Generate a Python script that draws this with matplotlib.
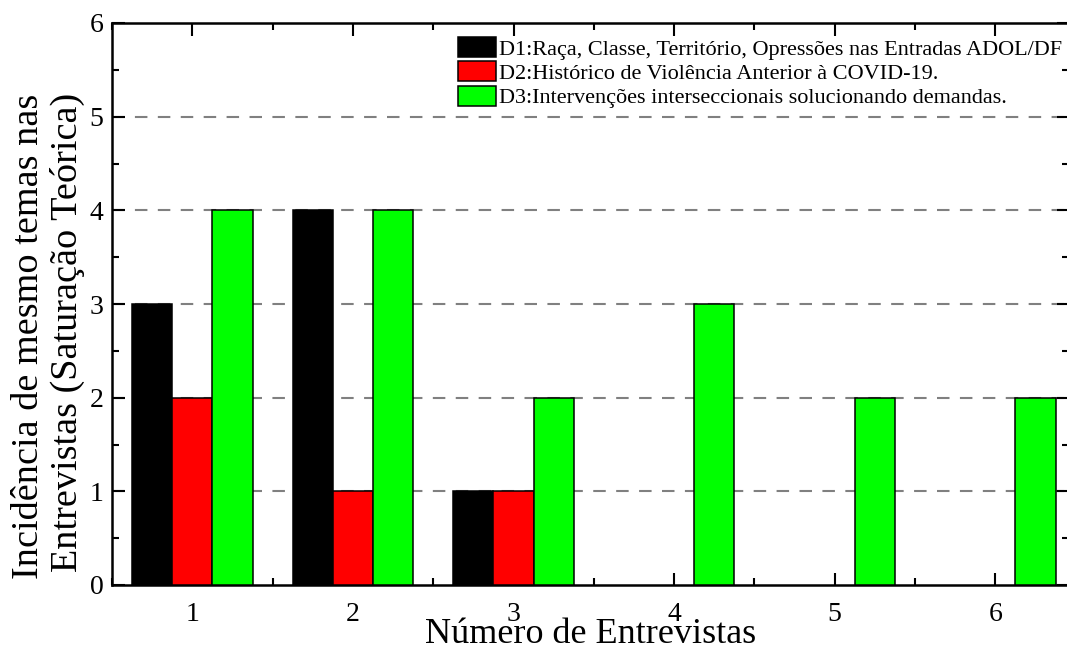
import numpy as np
import matplotlib
matplotlib.use('Agg')
import matplotlib.pyplot as plt
from matplotlib.ticker import MultipleLocator

# Data
# ----------------------------------------------------------------------------------------------
entrevistas = [1, 2, 3, 4, 5, 6]
d1 = [3, 4, 1, 0, 0, 0]
d2 = [2, 1, 1, 0, 0, 0]
d3 = [4, 4, 2, 3, 2, 2]
labels = ['D1:Raça, Classe, Território, Opressões nas Entradas ADOL/DF',
          'D2:Histórico de Violência Anterior à COVID-19.',
          'D3:Intervenções interseccionais solucionando demandas.']
colors = ['#000000', '#ff0000', '#00ff00']

plt.rcParams['font.family'] = ['Liberation Serif', 'DejaVu Serif']

fig = plt.figure(figsize=(10.67, 6.51), dpi=100)
# right spine sits just past the picture edge, as in the reference
ax = fig.add_axes([112/1067, 1-585/651, (1069-112)/1067, (585-23)/651])

x = np.array(entrevistas, dtype=float)
w = 0.25
for k, (vals, lab, c) in enumerate(zip([d1, d2, d3], labels, colors)):
    # zero-height bars leave no outline in the reference
    lw = [1.1 if v > 0 else 0 for v in vals]
    ax.bar(x + (k-1)*w, vals, width=w, color=c, edgecolor='black',
           linewidth=lw, label=lab, zorder=3)

for yv in [1, 2, 3, 4, 5]:
    ax.axhline(yv, color='#808080', linestyle=(0, (6, 5)), linewidth=1.5, zorder=1)

ax.set_xlim(0.5, 0.5 + (1069-112)/160.6)
ax.set_ylim(0, 6)
ax.xaxis.set_major_locator(MultipleLocator(1))
ax.xaxis.set_minor_locator(MultipleLocator(0.5))
ax.yaxis.set_major_locator(MultipleLocator(1))
ax.yaxis.set_minor_locator(MultipleLocator(0.5))
ax.tick_params(which='both', direction='in', top=True, right=True, labelsize=20, width=1.5)
ax.tick_params(which='major', length=9)
ax.tick_params(which='minor', length=5)
ax.tick_params(axis='x', pad=12)
ax.tick_params(axis='y', pad=6)
for s in ax.spines.values():
    s.set_linewidth(1.8)

ax.set_xlabel('Número de Entrevistas', fontsize=26, labelpad=-6.5)
# y title: lines right-aligned (ends flush at the top), sits below the axes centre
fig.text(48/1067, 1-336/651, 'Incidência de mesmo temas nas\nEntrevistas (Saturação Teórica)',
         fontsize=27.5, rotation=90, ha='center', va='center', multialignment='right',
         linespacing=1.16)

leg = ax.legend(loc='upper left', bbox_to_anchor=((458-112)/(1069-112), 1-14/562), fontsize=16,
                frameon=False, handlelength=1.7, handleheight=1.0,
                handletextpad=0.15, labelspacing=0.08, borderaxespad=0, borderpad=0)
for h in leg.legend_handles:
    h.set_linewidth(1.1)

fig.savefig('out.png', dpi=100)
